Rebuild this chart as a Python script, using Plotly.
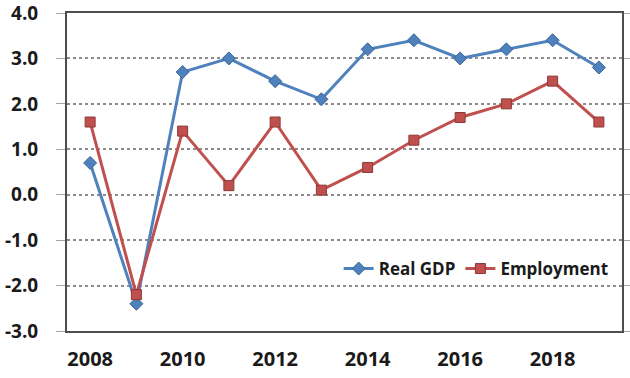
import plotly.graph_objects as go

years = [2008, 2009, 2010, 2011, 2012, 2013, 2014, 2015, 2016, 2017, 2018, 2019]
real_gdp = [0.7, -2.4, 2.7, 3.0, 2.5, 2.1, 3.2, 3.4, 3.0, 3.2, 3.4, 2.8]
employment = [1.6, -2.2, 1.4, 0.2, 1.6, 0.1, 0.6, 1.2, 1.7, 2.0, 2.5, 1.6]

y_tickvals = [-3, -2, -1, 0, 1, 2, 3, 4]
y_ticktext = ["-3.0", "-2.0", "-1.0", "0.0", "1.0", "2.0", "3.0", "4.0"]
x_tickvals = [2008, 2010, 2012, 2014, 2016, 2018]
x_ticktext = ["2008", "2010", "2012", "2014", "2016", "2018"]

fig = go.Figure()
fig.add_trace(go.Scatter(
    x=years, y=real_gdp, name="Real GDP", mode="lines+markers",
    line=dict(color="#4F81BD", width=3),
    marker=dict(symbol="diamond", size=10, color="#4F81BD",
                line=dict(color="#3A6595", width=1)),
))
fig.add_trace(go.Scatter(
    x=years, y=employment, name="Employment", mode="lines+markers",
    line=dict(color="#C0504D", width=3),
    marker=dict(symbol="square", size=10, color="#C0504D",
                line=dict(color="#8C3836", width=1)),
))

fig.update_layout(
    width=630, height=378,
    margin=dict(l=67, r=8, t=13, b=47, autoexpand=False),
    paper_bgcolor="white", plot_bgcolor="white",
    font=dict(family="Open Sans", color="#1A1A1A"),
    showlegend=True,
    legend=dict(
        orientation="h", x=0.985, y=0.195, xanchor="right", yanchor="middle",
        font=dict(size=17, family="Open Sans", color="#1A1A1A", weight="bold"),
        bgcolor="rgba(0,0,0,0)", itemwidth=30, tracegroupgap=0,
    ),
    xaxis=dict(
        range=[2007.5, 2019.5], tickvals=x_tickvals, ticktext=x_ticktext,
        showgrid=False, zeroline=False, automargin=False,
        showline=True, mirror="all", linecolor="#4D4D4D", linewidth=2,
        ticks="", ticklabelstandoff=9,
        tickfont=dict(size=20, family="Open Sans", color="#1A1A1A", weight="bold"),
    ),
    yaxis=dict(
        range=[-3, 4], tickvals=y_tickvals, ticktext=y_ticktext,
        showgrid=True, gridcolor="#8C8C8C", griddash="dot", gridwidth=1.5,
        zeroline=False, automargin=False,
        showline=True, mirror="all", linecolor="#4D4D4D", linewidth=2,
        ticks="outside", ticklen=9, tickcolor="#A6A6A6", tickwidth=1,
        ticklabelstandoff=14, ticklabeloverflow="allow",
        tickfont=dict(size=19, family="Open Sans", color="#1A1A1A", weight="bold"),
    ),
)

fig.write_html("out.html", config={"displayModeBar": False},
               post_script="document.body.style.margin='0';")
